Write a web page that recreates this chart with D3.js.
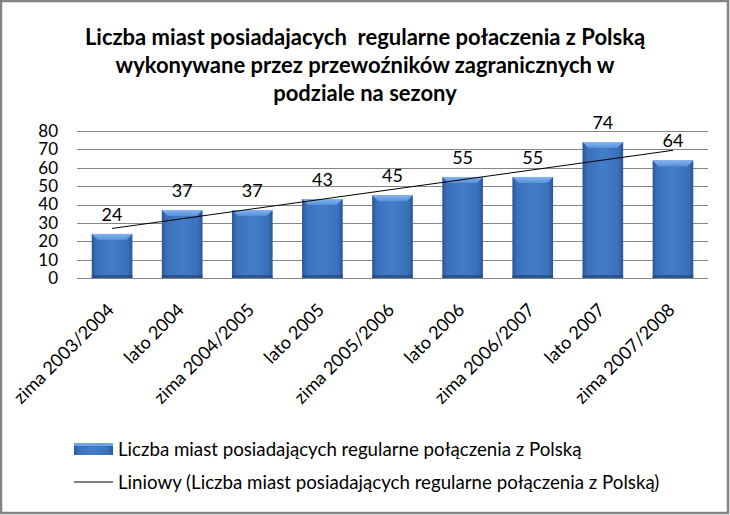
<!DOCTYPE html>
<html>
<head>
<meta charset="utf-8">
<script src="https://cdn.jsdelivr.net/npm/d3@7"></script>
<style>
  body { margin: 0; background: #fff; }
  svg { display: block; }
  text { font-family: Lato, Carlito, Calibri, sans-serif; fill: #000; }
</style>
</head>
<body>
<svg width="730" height="515"></svg>
<script>
let categories = ['zima 2003/2004', 'lato 2004', 'zima 2004/2005', 'lato 2005', 'zima 2005/2006',
  'lato 2006', 'zima 2006/2007', 'lato 2007', 'zima 2007/2008']
let values = [24, 37, 37, 43, 45, 55, 55, 74, 64]
let yTicks = [0, 10, 20, 30, 40, 50, 60, 70, 80]
let titleLines = ['Liczba miast posiadajacych  regularne połaczenia z Polską',
  'wykonywane przez przewoźników zagranicznych w', 'podziale na sezony']
let seriesName = 'Liczba miast posiadających regularne połączenia z Polską'
let trendName = 'Liniowy (Liczba miast posiadających regularne połączenia z Polską)'

const width = 730
const height = 515
const margin = { top: 131, right: 22, bottom: 237, left: 77 }

const svg = d3.select('svg')

// outer frame
svg.append('rect')
  .attr('x', 1).attr('y', 1)
  .attr('width', width - 3).attr('height', height - 3)
  .attr('fill', '#fff')
  .attr('stroke', '#848484')
  .attr('stroke-width', 2.5)

// gradients for the bevelled bars
const defs = svg.append('defs')
const grad = defs.append('linearGradient').attr('id', 'barGrad')
  .attr('x1', 0).attr('x2', 1).attr('y1', 0).attr('y2', 0)
grad.selectAll('stop')
  .data([[0, '#2a5797'], [0.12, '#3b70ba'], [0.5, '#437dca'], [0.88, '#3b70ba'], [1, '#2a5797']])
  .enter().append('stop')
  .attr('offset', d => d[0]).attr('stop-color', d => d[1])
const topGrad = defs.append('linearGradient').attr('id', 'topGrad')
  .attr('x1', 0).attr('x2', 0).attr('y1', 0).attr('y2', 1)
topGrad.append('stop').attr('offset', 0).attr('stop-color', '#86b5f0')
topGrad.append('stop').attr('offset', 1).attr('stop-color', '#5690da')

let x = d3.scaleBand()
  .domain(categories)
  .range([margin.left, width - margin.right])
  .paddingInner(0.42)
  .paddingOuter(0.21)

let y = d3.scaleLinear()
  .domain([0, 80])
  .range([height - margin.bottom, margin.top])

// title
svg.append('g')
  .selectAll('text')
  .data(titleLines)
  .enter()
  .append('text')
  .attr('x', 365)
  .attr('y', (d, i) => 45 + i * 28)
  .attr('text-anchor', 'middle')
  .attr('font-size', 22)
  .attr('font-weight', 'bold')
  .attr('xml:space', 'preserve')
  .text(d => d)

// gridlines + y labels
let yAxis = g =>
  g.attr('transform', `translate(${margin.left},0)`)
    .call(d3.axisLeft(y).tickValues(yTicks).tickSize(-(width - margin.right - margin.left)).tickPadding(19))
    .call(g => g.select('.domain').remove())
    .call(g => g.selectAll('.tick line').attr('stroke', '#868686').attr('shape-rendering', 'crispEdges'))
    .call(g => g.selectAll('.tick text').attr('font-size', 17).attr('font-family', 'Lato, sans-serif').attr('fill', '#000'))
svg.append('g').call(yAxis)

// bars
const bars = svg.append('g')
  .selectAll('g')
  .data(values)
  .enter()
  .append('g')

bars.append('rect')
  .attr('x', (d, i) => x(categories[i]))
  .attr('y', d => y(d))
  .attr('width', x.bandwidth())
  .attr('height', d => y(0) - y(d))
  .attr('fill', 'url(#barGrad)')

// top bevel
bars.append('path')
  .attr('d', (d, i) => {
    let x0 = x(categories[i]), x1 = x0 + x.bandwidth(), t = y(d), b = 6
    return `M${x0},${t}L${x1},${t}L${x1 - b},${t + b}L${x0 + b},${t + b}Z`
  })
  .attr('fill', 'url(#topGrad)')

// bottom shade
bars.append('rect')
  .attr('x', (d, i) => x(categories[i]))
  .attr('y', y(0) - 3)
  .attr('width', x.bandwidth())
  .attr('height', 3)
  .attr('fill', '#22487f')
  .attr('opacity', 0.7)

// value labels
svg.append('g')
  .selectAll('text')
  .data(values)
  .enter()
  .append('text')
  .attr('x', (d, i) => x(categories[i]) + x.bandwidth() / 2)
  .attr('y', d => y(d) - 13)
  .attr('text-anchor', 'middle')
  .attr('font-size', 18)
  .text(d => d)

// linear trendline (least squares, like Excel "Liniowy")
let n = values.length
let mx = d3.mean(values, (d, i) => i + 1)
let my = d3.mean(values)
let slope = d3.sum(values, (d, i) => (i + 1 - mx) * (d - my)) / d3.sum(values, (d, i) => (i + 1 - mx) ** 2)
let icpt = my - slope * mx
let cx = i => x(categories[i]) + x.bandwidth() / 2
svg.append('line')
  .attr('x1', cx(0)).attr('y1', y(icpt + slope))
  .attr('x2', cx(n - 1)).attr('y2', y(icpt + slope * n))
  .attr('stroke', '#000')
  .attr('stroke-width', 1)

// x labels
svg.append('g')
  .selectAll('text')
  .data(categories)
  .enter()
  .append('text')
  .attr('transform', d => `translate(${x(d) + x.bandwidth() / 2 + 3},311) rotate(-45)`)
  .attr('text-anchor', 'end')
  .attr('font-size', 18)
  .text(d => d)

// legend
const legend = svg.append('g')
legend.append('rect')
  .attr('x', 74).attr('y', 443).attr('width', 39).attr('height', 12)
  .attr('fill', 'url(#barGrad)')
legend.append('rect')
  .attr('x', 74).attr('y', 443).attr('width', 39).attr('height', 3)
  .attr('fill', '#6fa2e6')
legend.append('text')
  .attr('x', 118).attr('y', 456)
  .attr('font-size', 18.7)
  .text(seriesName)
legend.append('line')
  .attr('x1', 74).attr('x2', 113).attr('y1', 482).attr('y2', 482)
  .attr('stroke', '#000')
legend.append('text')
  .attr('x', 118).attr('y', 489)
  .attr('font-size', 18.7)
  .text(trendName)
</script>
</body>
</html>
